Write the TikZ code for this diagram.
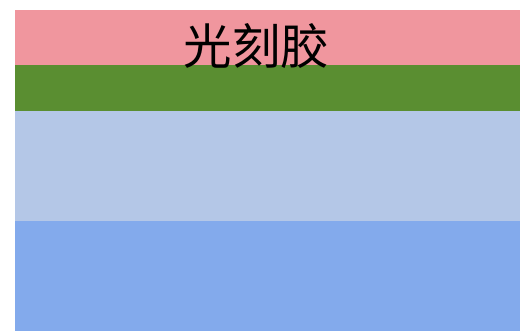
\documentclass[tikz,border=0pt]{standalone}
\usepackage{fontspec}
\newfontfamily\cjk{Noto Sans CJK SC}
\definecolor{pinkl}{RGB}{240,150,158}
\definecolor{greenl}{RGB}{90,142,49}
\definecolor{bluel}{RGB}{180,199,231}
\definecolor{blued}{RGB}{131,170,236}
\tikzset{layer/.style={draw=none}}
\begin{document}
\begin{tikzpicture}[x=1pt,y=1pt]
\useasboundingbox (0,0) rectangle (520,331);
\fill[blued] (15,0) rectangle (520,110);
\fill[bluel] (15,110) rectangle (520,220);
\fill[greenl] (15,220) rectangle (520,266);
\fill[pinkl] (15,266) rectangle (520,321);
\node[inner sep=0pt, font=\cjk\fontsize{48.5}{52}\selectfont] (label) at (256.5,285) {光刻胶};
\end{tikzpicture}
\end{document}
